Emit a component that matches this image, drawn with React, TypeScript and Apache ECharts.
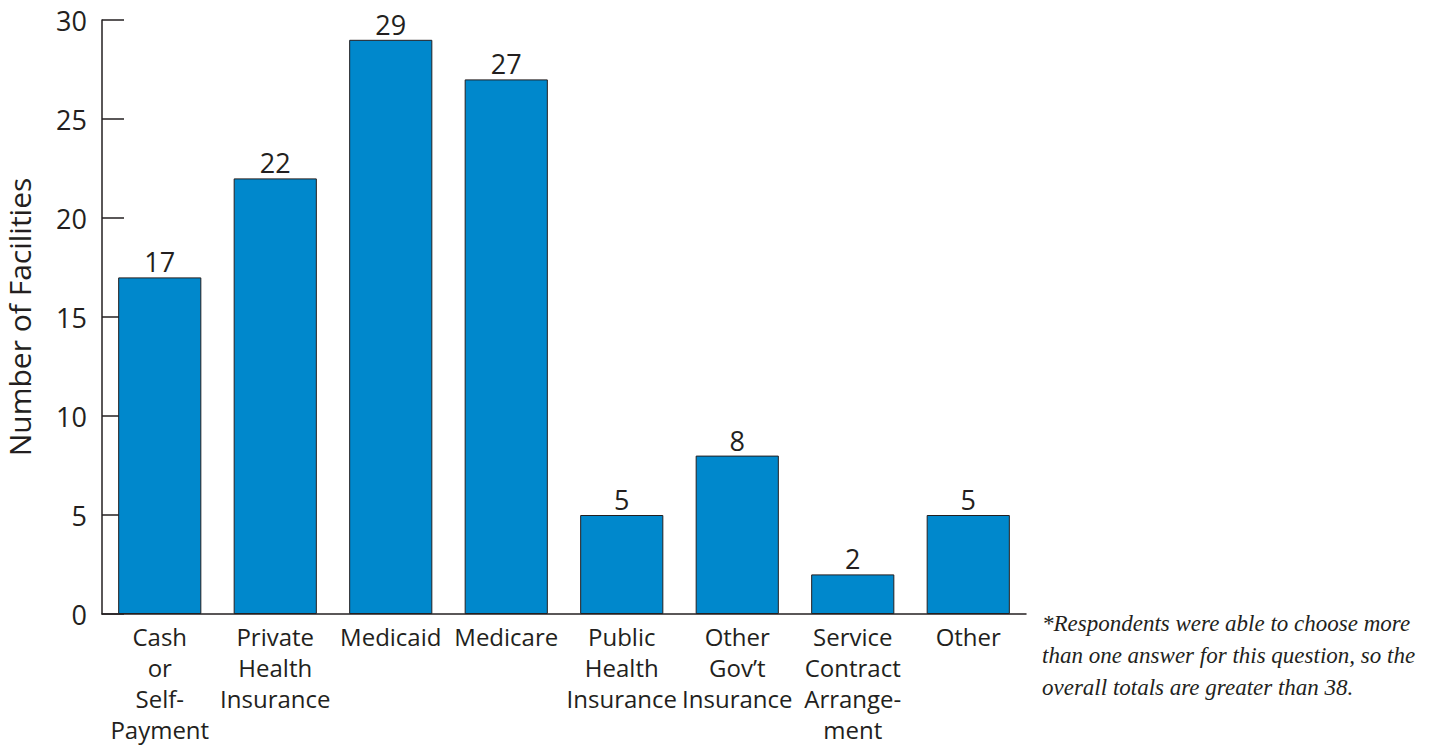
import React, { useEffect, useRef } from "react";
import * as echarts from "echarts";

const categories = [
  "Cash\nor\nSelf-\nPayment",
  "Private\nHealth\nInsurance",
  "Medicaid",
  "Medicare",
  "Public\nHealth\nInsurance",
  "Other\nGov’t\nInsurance",
  "Service\nContract\nArrange-\nment",
  "Other",
];
const values = [17, 22, 29, 27, 5, 8, 2, 5];
const yAxisName = "Number of Facilities";
const footnoteLines = [
  "*Respondents were able to choose more",
  "than one answer for this question, so the",
  "overall totals are greater than 38.",
];

const FONT = "'Open Sans', 'Noto Sans', sans-serif";

export default function App() {
  const ref = useRef<HTMLDivElement>(null);
  useEffect(() => {
    if (!ref.current) return;
    const chart = echarts.init(ref.current, undefined, { renderer: "svg" });
    chart.setOption({
      animation: false,
      grid: { left: 102, right: 420, top: 20, bottom: 141, containLabel: false, outerBoundsMode: "none" },
      xAxis: {
        type: "category",
        data: categories,
        axisLine: { show: true, lineStyle: { color: "#231f20", width: 1.5 } },
        axisTick: { show: false },
        axisLabel: {
          interval: 0,
          color: "#231f20",
          fontSize: 24,
          fontFamily: FONT,
          lineHeight: 31,
          margin: 7,
        },
      },
      yAxis: {
        type: "value",
        min: 0,
        max: 30,
        interval: 5,
        name: yAxisName,
        nameLocation: "middle",
        nameGap: 68,
        nameTextStyle: { color: "#231f20", fontSize: 30, fontFamily: FONT },
        axisLine: { show: true, lineStyle: { color: "#231f20", width: 1.5 } },
        axisTick: { show: true, inside: true, length: 22, lineStyle: { color: "#231f20", width: 1.5 } },
        axisLabel: { color: "#231f20", fontSize: 27, fontFamily: FONT, margin: 15 },
        splitLine: { show: false },
      },
      series: [
        {
          type: "bar",
          data: values,
          barCategoryGap: "28%",
          itemStyle: { color: "#0088cc", borderColor: "#231f20", borderWidth: 1 },
          label: {
            show: true,
            position: "top",
            distance: 2,
            color: "#231f20",
            fontSize: 27,
            fontFamily: FONT,
          },
        },
      ],
      graphic: [
        {
          type: "text",
          left: 1042,
          top: 607,
          style: {
            text: footnoteLines.join("\n"),
            font: "italic 23px 'Liberation Serif', 'DejaVu Serif', serif",
            lineHeight: 32,
            fill: "#231f20",
          },
        },
      ],
    });
    return () => chart.dispose();
  }, []);
  return <div ref={ref} style={{ width: 1446, height: 755, position: "absolute", left: 0, top: 0 }} />;
}
